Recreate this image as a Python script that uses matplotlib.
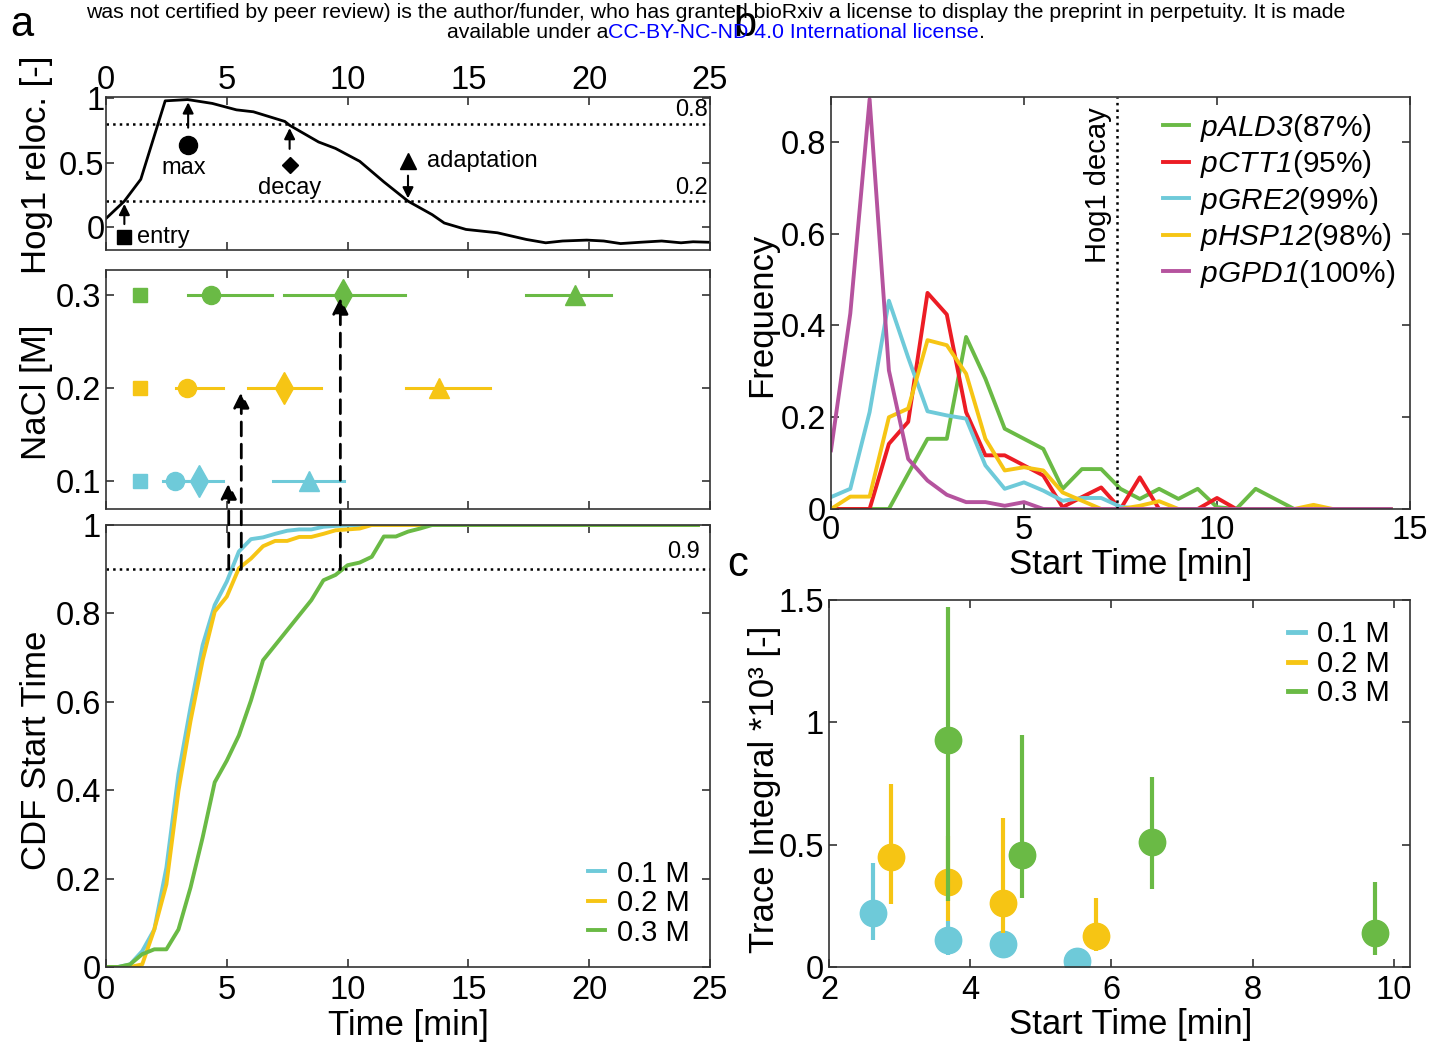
import numpy as np
import matplotlib
matplotlib.use('Agg')
import matplotlib.pyplot as plt
from matplotlib.patches import ConnectionPatch
from matplotlib.lines import Line2D

plt.rcParams['font.family'] = ['Liberation Sans', 'DejaVu Sans']
plt.rcParams['mathtext.fontset'] = 'custom'
plt.rcParams['mathtext.rm'] = 'Liberation Sans'
plt.rcParams['mathtext.sf'] = 'Liberation Sans:italic'

# colours
c_cyan = '#6ecad9'
c_yellow = '#f6c514'
c_green = '#6aba45'
c_red = '#ec1c24'
c_mag = '#b5539e'

# ---- panel a, top: Hog1 relocation trace ----
hog_t = [0, 0.76, 1.44, 2.45, 3.38, 4.4, 5.4, 6.1, 7.4, 7.6, 8.8, 9.5, 10.5, 11.5,
         12.5, 13.5, 14.0, 14.9, 16.2, 17.4, 18.2, 18.9, 19.9, 20.6, 21.3, 22.1,
         23.0, 23.8, 24.3, 25.0]
hog_y = [0.065, 0.2, 0.37, 0.98, 0.99, 0.96, 0.91, 0.895, 0.82, 0.79, 0.66, 0.61,
         0.51, 0.35, 0.2, 0.095, 0.03, -0.02, -0.046, -0.098, -0.124, -0.11, -0.103,
         -0.11, -0.13, -0.12, -0.11, -0.124, -0.116, -0.12]

# ---- panel a, middle: event times per NaCl ----
nacl = [0.1, 0.2, 0.3]
nacl_cols = [c_cyan, c_yellow, c_green]
entry_t = [1.4, 1.4, 1.4]
max_t = [2.85, 3.36, 4.36]
max_lo = [2.37, 2.9, 3.38]
max_hi = [3.4, 4.86, 6.86]
decay_t = [3.86, 7.37, 9.83]
decay_lo = [3.3, 5.88, 7.35]
decay_hi = [4.86, 8.9, 12.36]
adapt_t = [8.4, 13.8, 19.4]
adapt_lo = [6.9, 12.4, 17.4]
adapt_hi = [9.86, 15.9, 20.9]
arrow_x = [5.08, 5.6, 9.7]
arrow_tip = [0.098, 0.196, 0.297]

# ---- panel a, bottom: CDF of start time ----
cdf1_t = [0, 0.5, 1.0, 1.5, 2.0, 2.5, 3.0, 3.5, 4.0, 4.5, 5.0, 5.5, 6.0, 6.5, 7.0,
          7.5, 8.0, 8.5, 9.0, 9.5, 10.0, 10.5, 24.5]
cdf1 = [0, 0, 0.006, 0.036, 0.085, 0.225, 0.437, 0.588, 0.728, 0.819, 0.872, 0.94,
        0.968, 0.972, 0.98, 0.987, 0.99, 0.99, 0.996, 0.998, 0.999, 1.0, 1.0]
cdf2_t = [0, 0.5, 1.0, 1.5, 2.0, 2.5, 3.0, 3.5, 4.0, 4.5, 5.0, 5.5, 6.0, 6.5, 7.0,
          7.5, 8.0, 8.5, 9.0, 9.5, 10.0, 10.5, 11.0, 24.5]
cdf2 = [0, 0, 0, 0.006, 0.085, 0.187, 0.399, 0.557, 0.694, 0.804, 0.838, 0.902,
        0.924, 0.952, 0.964, 0.964, 0.973, 0.973, 0.98, 0.988, 0.99, 0.992, 1.0, 1.0]
cdf3_t = [0, 0.5, 1.0, 1.5, 2.0, 2.5, 3.0, 3.5, 4.0, 4.5, 5.0, 5.5, 6.0, 6.5, 7.0,
          7.5, 8.0, 8.5, 9.0, 9.5, 10.0, 10.5, 11.0, 11.5, 12.0, 12.5, 13.0, 13.5, 24.5]
cdf3 = [0, 0, 0.006, 0.029, 0.04, 0.04, 0.085, 0.18, 0.293, 0.418, 0.467, 0.524,
        0.603, 0.694, 0.728, 0.762, 0.796, 0.83, 0.875, 0.887, 0.909, 0.915, 0.928,
        0.974, 0.974, 0.985, 0.992, 1.0, 1.0]

# ---- panel b: start time histograms ----
bins_b = [0, 0.5, 1, 1.5, 2, 2.5, 3, 3.5, 4, 4.5, 5, 5.5, 6, 6.5, 7, 7.5, 8, 8.5,
          9, 9.5, 10, 10.5, 11, 11.5, 12, 12.5, 13, 13.5, 14, 14.5]
f_ald3 = [0, 0, 0, 0, 0.077, 0.153, 0.153, 0.375, 0.284, 0.175, 0.153, 0.131, 0.044,
          0.087, 0.087, 0.044, 0.022, 0.044, 0.022, 0.044, 0.004, 0, 0.044, 0.022,
          0, 0, 0, 0, 0, 0]
f_ctt1 = [0, 0, 0, 0.142, 0.19, 0.471, 0.424, 0.211, 0.117, 0.117, 0.095, 0.073,
          0.004, 0.026, 0.047, 0, 0.069, 0, 0, 0, 0.024, 0, 0, 0, 0, 0, 0, 0, 0, 0]
f_gre2 = [0.026, 0.044, 0.211, 0.454, 0.33, 0.213, 0.204, 0.197, 0.095, 0.044, 0.058,
          0.04, 0.018, 0.024, 0.024, 0.005, 0, 0, 0, 0, 0, 0, 0, 0, 0, 0, 0, 0, 0, 0]
f_hsp12 = [0, 0.027, 0.027, 0.2, 0.219, 0.368, 0.357, 0.295, 0.153, 0.084, 0.091,
           0.084, 0.036, 0.018, 0, 0, 0.007, 0.017, 0, 0, 0, 0, 0, 0, 0, 0.009, 0, 0,
           0, 0]
f_gpd1 = [0.128, 0.426, 0.893, 0.302, 0.109, 0.062, 0.031, 0.015, 0.015, 0.007, 0.015,
          0, 0, 0, 0, 0, 0, 0, 0, 0, 0, 0, 0, 0, 0, 0, 0, 0, 0, 0]
b_labels = [r'$\mathsf{pALD3}$(87%)', r'$\mathsf{pCTT1}$(95%)', r'$\mathsf{pGRE2}$(99%)',
            r'$\mathsf{pHSP12}$(98%)', r'$\mathsf{pGPD1}$(100%)']
hog1_decay = 7.4

# ---- panel c: trace integral vs start time ----
c1_x = [2.63, 3.68, 4.47, 5.51]
c1_y = [0.219, 0.11, 0.093, 0.024]
c1_lo = [0.109, 0.05, 0.05, 0.0]
c1_hi = [0.426, 0.188, 0.12, 0.05]
c2_x = [2.88, 3.68, 4.47, 5.78]
c2_y = [0.449, 0.348, 0.263, 0.127]
c2_lo = [0.259, 0.188, 0.14, 0.065]
c2_hi = [0.748, 0.535, 0.607, 0.28]
c3_x = [3.68, 4.73, 6.57, 9.73]
c3_y = [0.929, 0.457, 0.512, 0.14]
c3_lo = [0.269, 0.283, 0.32, 0.048]
c3_hi = [1.473, 0.947, 0.776, 0.348]

FS = 23.5   # tick labels
LFS = 25    # axis labels
GFS = 21    # legends
W, H = 1443, 1049
fig = plt.figure(figsize=(W / 100, H / 100), dpi=100)


def box(l, t, r, b):
    return [l / W, 1 - b / H, (r - l) / W, (b - t) / H]


def style(ax):
    ax.tick_params(direction='in', length=6, width=1.2, labelsize=FS,
                   top=True, right=True, color='#333333')
    for s in ax.spines.values():
        s.set_linewidth(1.2)
        s.set_color('#333333')


ax1 = fig.add_axes(box(106, 97, 710, 250))
ax2 = fig.add_axes(box(106, 270, 710, 509))
ax3 = fig.add_axes(box(106, 525, 710, 967))
axb = fig.add_axes(box(831, 97, 1410, 509))
axc = fig.add_axes(box(829, 600, 1410, 967))
for ax in (ax1, ax2, ax3, axb, axc):
    style(ax)

# top trace
ax1.plot(hog_t, hog_y, color='k', lw=2)
ax1.axhline(0.8, color='k', ls=':', lw=1.8)
ax1.axhline(0.2, color='k', ls=':', lw=1.8)
ax1.text(24.9, 0.82, '0.8', ha='right', va='bottom', fontsize=17)
ax1.text(24.9, 0.22, '0.2', ha='right', va='bottom', fontsize=17)
arr = dict(arrowstyle='-|>', color='k', lw=1.5, mutation_scale=16)
ax1.annotate('', xy=(0.76, 0.2), xytext=(0.76, 0.0), arrowprops=arr)
ax1.plot([0.76], [-0.075], 's', color='k', ms=10)
ax1.text(1.3, -0.075, 'entry', va='center', fontsize=17)
ax1.annotate('', xy=(3.4, 0.99), xytext=(3.4, 0.75), arrowprops=arr)
ax1.plot([3.4], [0.64], 'o', color='k', ms=13)
ax1.text(3.2, 0.46, 'max', ha='center', va='center', fontsize=17)
ax1.annotate('', xy=(7.6, 0.79), xytext=(7.6, 0.585), arrowprops=arr)
ax1.plot([7.6], [0.485], 'D', color='k', ms=8)
ax1.text(7.6, 0.3, 'decay', ha='center', va='center', fontsize=17)
ax1.annotate('', xy=(12.5, 0.2), xytext=(12.5, 0.42), arrowprops=arr)
ax1.plot([12.5], [0.51], '^', color='k', ms=12)
ax1.text(13.3, 0.51, 'adaptation', va='center', fontsize=17)
ax1.set_xlim(0, 25)
ax1.set_ylim(-0.18, 1.01)
ax1.set_xticks([0, 5, 10, 15, 20, 25])
ax1.set_yticks([0, 0.5, 1])
ax1.set_yticklabels(['0', '0.5', '1'])
ax1.tick_params(labeltop=True, labelbottom=False, pad=1)
ax1.set_ylabel('Hog1 reloc. [-]', fontsize=LFS)
ax1.yaxis.set_label_coords(-0.088, 0.555)

# middle: event times
for i in range(3):
    col = nacl_cols[i]
    y = nacl[i]
    ax2.plot([entry_t[i]], [y], 's', color=col, ms=10)
    ax2.plot([max_lo[i], max_hi[i]], [y, y], color=col, lw=2.2)
    ax2.plot([decay_lo[i], decay_hi[i]], [y, y], color=col, lw=2.2)
    ax2.plot([adapt_lo[i], adapt_hi[i]], [y, y], color=col, lw=2.2)
    ax2.plot([max_t[i]], [y], 'o', color=col, ms=13)
    ax2.plot([decay_t[i]], [y], 'd', color=col, ms=16)
    ax2.plot([adapt_t[i]], [y], '^', color=col, ms=15)
ax2.set_xlim(0, 25)
ax2.set_ylim(0.07, 0.327)
ax2.set_xticks([0, 5, 10, 15, 20, 25])
ax2.set_yticks([0.1, 0.2, 0.3])
ax2.set_yticklabels(['0.1', '0.2', '0.3'])
ax2.tick_params(labelbottom=False)
ax2.set_ylabel('NaCl [M]', fontsize=LFS)
ax2.yaxis.set_label_coords(-0.088, 0.49)

# bottom: CDF
ax3.plot(cdf1_t, cdf1, color=c_cyan, lw=2.8, label='0.1 M')
ax3.plot(cdf2_t, cdf2, color=c_yellow, lw=2.8, label='0.2 M')
ax3.plot(cdf3_t, cdf3, color=c_green, lw=2.8, label='0.3 M')
ax3.axhline(0.9, color='k', ls=':', lw=1.8)
ax3.text(24.6, 0.915, '0.9', ha='right', va='bottom', fontsize=17)
ax3.set_xlim(0, 25)
ax3.set_ylim(0, 1)
ax3.set_xticks([0, 5, 10, 15, 20, 25])
ax3.set_yticks([0, 0.2, 0.4, 0.6, 0.8, 1])
ax3.set_yticklabels(['0', '0.2', '0.4', '0.6', '0.8', '1'])
ax3.tick_params(axis='x', pad=6)
ax3.set_xlabel('Time [min]', fontsize=LFS, labelpad=2)
ax3.set_ylabel('CDF Start Time', fontsize=LFS)
ax3.yaxis.set_label_coords(-0.088, 0.49)
ax3.legend(loc='lower right', frameon=False, fontsize=GFS, handlelength=0.6,
           handletextpad=0.4, labelspacing=0.05, borderaxespad=0.3)

for x, tip in zip(arrow_x, arrow_tip):
    con = ConnectionPatch(xyA=(x, 0.9), coordsA=ax3.transData,
                          xyB=(x, tip), coordsB=ax2.transData,
                          arrowstyle='-|>', ls=(0, (5, 3)), lw=2, color='k',
                          mutation_scale=24)
    fig.add_artist(con)

# panel b
for f, col, lab in zip([f_ald3, f_ctt1, f_gre2, f_hsp12, f_gpd1],
                       [c_green, c_red, c_cyan, c_yellow, c_mag], b_labels):
    axb.plot(bins_b, f, color=col, lw=2.8, label=lab)
axb.axvline(hog1_decay, color='k', ls=':', lw=1.8)
axb.text(hog1_decay - 0.12, 0.875, 'Hog1 decay', rotation=90, ha='right', va='top',
         fontsize=21)
axb.set_xlim(0, 15)
axb.set_ylim(0, 0.898)
axb.set_xticks([0, 5, 10, 15])
axb.set_yticks([0, 0.2, 0.4, 0.6, 0.8])
axb.set_yticklabels(['0', '0.2', '0.4', '0.6', '0.8'])
axb.tick_params(axis='x', pad=4)
axb.set_xlabel('Start Time [min]', fontsize=LFS)
axb.xaxis.set_label_coords(0.518, -0.095)
axb.set_ylabel('Frequency', fontsize=LFS)
axb.yaxis.set_label_coords(-0.092, 0.471)
axb.legend(loc='upper right', frameon=False, fontsize=21.5, handlelength=0.9,
           handletextpad=0.35, labelspacing=0.15, borderaxespad=0.1)

# panel c
for xs, ys, lo, hi, col in [(c1_x, c1_y, c1_lo, c1_hi, c_cyan),
                            (c2_x, c2_y, c2_lo, c2_hi, c_yellow),
                            (c3_x, c3_y, c3_lo, c3_hi, c_green)]:
    axc.vlines(xs, lo, hi, color=col, lw=3)
    axc.plot(xs, ys, 'o', color=col, ms=19, ls='none')
axc.set_xlim(2, 10.23)
axc.set_ylim(0, 1.5)
axc.set_xticks([2, 4, 6, 8, 10])
axc.set_yticks([0, 0.5, 1, 1.5])
axc.set_yticklabels(['0', '0.5', '1', '1.5'])
axc.tick_params(axis='x', pad=6)
axc.set_xlabel('Start Time [min]', fontsize=LFS)
axc.xaxis.set_label_coords(0.52, -0.113)
axc.set_ylabel('Trace Integral *10³ [-]', fontsize=LFS)
axc.yaxis.set_label_coords(-0.082, 0.485)
handles = [Line2D([], [], color=c, lw=3.5) for c in (c_cyan, c_yellow, c_green)]
axc.legend(handles, ['0.1 M', '0.2 M', '0.3 M'], loc='upper right', frameon=False,
           fontsize=GFS, handlelength=0.6, handletextpad=0.4, labelspacing=0.05,
           borderaxespad=0.3)

# panel letters
fig.text(22 / W, 1 - 25 / H, 'a', fontsize=30, ha='center', va='center')
fig.text(745 / W, 1 - 25 / H, 'b', fontsize=30, ha='center', va='center')
fig.text(738 / W, 1 - 565 / H, 'c', fontsize=30, ha='center', va='center')

# header text
HFS = 15.3
fig.text(716 / W, 1 - 12 / H, 'was not certified by peer review) is the author/funder, '
         'who has granted bioRxiv a license to display the preprint in perpetuity. '
         'It is made', ha='center', va='center', fontsize=HFS)
fig.text(608 / W, 1 - 32 / H, 'available under a', ha='right', va='center', fontsize=HFS)
t_lic = fig.text(608 / W, 1 - 32 / H, 'CC-BY-NC-ND 4.0 International license', ha='left',
                 va='center', fontsize=HFS, color='#0000ff')
fig.canvas.draw()
x_end = t_lic.get_window_extent().x1 / W
fig.text(x_end, 1 - 32 / H, '.', ha='left', va='center', fontsize=HFS)

fig.savefig('out.png', dpi=100)
